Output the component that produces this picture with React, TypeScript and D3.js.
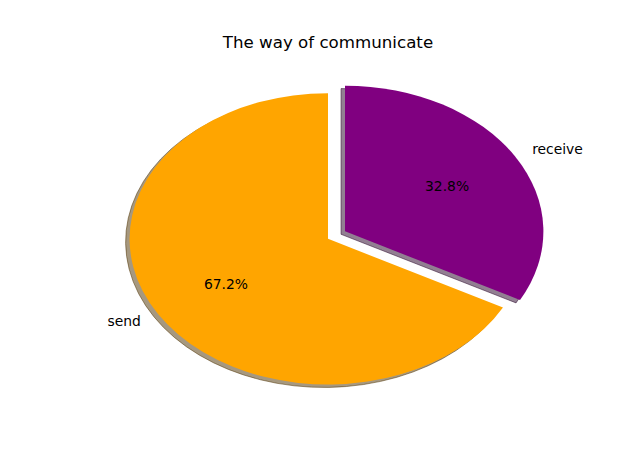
import React from "react";
import * as d3 from "d3";

const labels = ["send", "receive"];
const values = [67.2, 32.8];
const colors = ["#FFA500", "#800080"];
const explode = [0, 0.1];
const title = "The way of communicate";

const W = 640;
const H = 473;

export default function App() {
  const x = d3.scaleLinear().domain([-1.25, 1.25]).range([0.125 * W, 0.9 * W]);
  const y = d3.scaleLinear().domain([-1.25, 1.25]).range([H * 0.89, H * 0.12]);
  const cx = x(0);
  const cy = y(0);
  const sx = x(1) - x(0);
  const sy = y(0) - y(1);

  const pie = d3
    .pie<number>()
    .sort(null)
    .value((d) => d)
    .startAngle(0)
    .endAngle(-2 * Math.PI);
  const arcs = pie(values);
  const arc = d3.arc<d3.PieArcDatum<number>>().innerRadius(0).outerRadius(1);

  const items = arcs.map((a, i) => {
    const mid = (a.startAngle + a.endAngle) / 2;
    const dx = Math.sin(mid);
    const dy = -Math.cos(mid);
    const ox = explode[i] * dx;
    const oy = explode[i] * dy;
    return { a, i, mid, dx, dy, ox, oy };
  });

  const font = "DejaVu Sans, sans-serif";

  return (
    <svg width={W} height={H} style={{ display: "block", position: "absolute", left: 0, top: 0 }}>
      <rect width={W} height={H} fill="#fff" />
      <g transform={`translate(${cx},${cy}) scale(${sx},${sy})`}>
        {items.map(({ a, i, ox, oy }) => {
          const c = d3.rgb(colors[i]);
          const sc = `rgb(${c.r * 0.3},${c.g * 0.3},${c.b * 0.3})`;
          return (
            <path
              key={"s" + i}
              d={arc(a) || ""}
              transform={`translate(${ox - 0.02},${oy + 0.02})`}
              fill={sc}
              fillOpacity={0.5}
              stroke={sc}
              strokeOpacity={0.5}
              strokeWidth={1}
              vectorEffect="non-scaling-stroke"
            />
          );
        })}
        {items.map(({ a, i, ox, oy }) => (
          <path key={"w" + i} d={arc(a) || ""} transform={`translate(${ox},${oy})`} fill={colors[i]} />
        ))}
      </g>
      {items.map(({ i, dx, dy, ox, oy }) => {
        const lx = cx + (ox + 1.1 * dx) * sx;
        const ly = cy + (oy + 1.1 * dy) * sy;
        const px = cx + (ox + 0.6 * dx) * sx;
        const py = cy + (oy + 0.6 * dy) * sy;
        const pct = (values[i] / d3.sum(values)) * 100;
        return (
          <g key={"t" + i} fontFamily={font} fontSize={13.89} fill="#000">
            <text x={lx} y={ly} textAnchor={dx < 0 ? "end" : "start"} dominantBaseline="central">
              {labels[i]}
            </text>
            <text x={px} y={py} textAnchor="middle" dominantBaseline="central">
              {pct.toFixed(1) + "%"}
            </text>
          </g>
        );
      })}
      <text x={cx} y={H * 0.12 - 8.33} textAnchor="middle" fontFamily={font} fontSize={16.67} fill="#000">
        {title}
      </text>
    </svg>
  );
}
